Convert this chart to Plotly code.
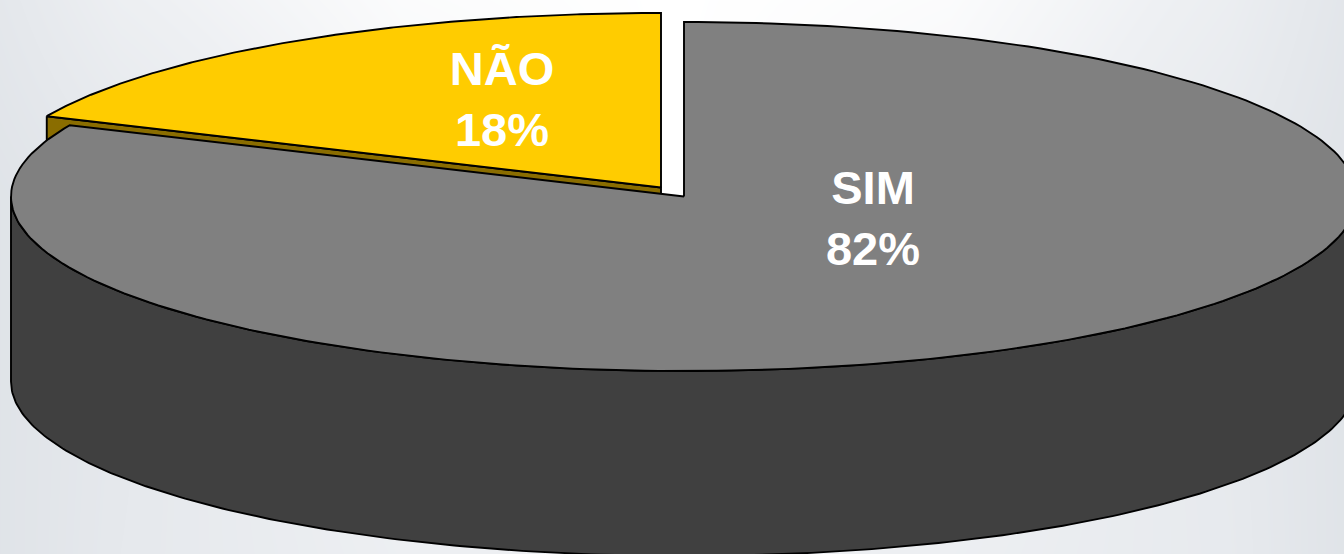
import numpy as np
import plotly.graph_objects as go

categories = ["SIM", "NÃO"]
shares = [81.7, 18.3]
labels = ["82%", "18%"]

# background tone sampled coarsely (0 = edge grey, 1 = white)
bg_x = [0, 120, 400, 672, 950, 1230, 1344]
bg_y = [0, 200, 554]
bg_z = [[0.25, 0.55, 0.9, 1.0, 0.9, 0.5, 0.2],
        [0.1, 0.25, 0.7, 1.0, 0.7, 0.3, 0.1],
        [0.1, 0.3, 0.55, 0.6, 0.55, 0.35, 0.1]]

CX, CY, RX, RY, DEPTH = 684, 196.5, 673, 174.5, 185
DX, DY = -23, -9  # explode offset of the NÃO slice
GREY, GREY_D, YEL, YEL_D = "#808080", "#404040", "#ffcc00", "#8a6d00"
LINE = dict(color="black", width=1.9)


def arc(a0, a1, ox=0, oy=0, n=240):
    t = np.radians(np.linspace(a0, a1, n))
    return CX + ox + RX * np.sin(t), CY + oy - RY * np.cos(t)


def poly(x, y, fill):
    return go.Scatter(x=list(x), y=list(y), mode="lines", fill="toself", fillcolor=fill,
                      line=LINE, hoverinfo="skip", showlegend=False)


split = 360 * shares[0] / sum(shares)
fig = go.Figure()
fig.add_trace(go.Heatmap(x=bg_x, y=bg_y, z=bg_z, zsmooth="best", showscale=False, hoverinfo="skip",
                         zmin=0, zmax=1, colorscale=[[0, "#dde1e6"], [0.6, "#eef0f3"], [1, "#ffffff"]]))

# NÃO: side wall, then top
ax, ay = arc(split, split, DX, DY, 1)
fig.add_trace(poly([ax[0], CX + DX, CX + DX, ax[0], ax[0]],
                   [ay[0], CY + DY, CY + DY + DEPTH, ay[0] + DEPTH, ay[0]], YEL_D))
x, y = arc(split, 360, DX, DY)
fig.add_trace(poly([CX + DX, *x, CX + DX], [CY + DY, *y, CY + DY], YEL))

# SIM: side wall, then top
x, y = arc(90, 270)
fig.add_trace(poly([*x, *x[::-1], x[0]], [*y, *(y[::-1] + DEPTH), y[0]], GREY_D))
x, y = arc(0, split)
fig.add_trace(poly([CX, *x, CX], [CY, *y, CY], GREY))

fig.add_trace(go.Scatter(x=[873, 502], y=[222.5, 104], mode="text",
                         text=[f"{c}<br>{l}" for c, l in zip(categories, labels)],
                         textposition="middle center", hoverinfo="skip", showlegend=False,
                         textfont=dict(family="Liberation Sans, Arial, sans-serif", size=47, color="white", weight="bold")))

fig.update_layout(width=1344, height=554, margin=dict(l=0, r=0, t=0, b=0),
                  paper_bgcolor="#eceef1", plot_bgcolor="#eceef1", showlegend=False,
                  xaxis=dict(range=[0, 1344], visible=False, fixedrange=True),
                  yaxis=dict(range=[554, 0], visible=False, fixedrange=True))
fig.write_html("out.html", config={"displayModeBar": False},
               post_script="document.body.style.margin='0';document.body.style.overflow='hidden';")
